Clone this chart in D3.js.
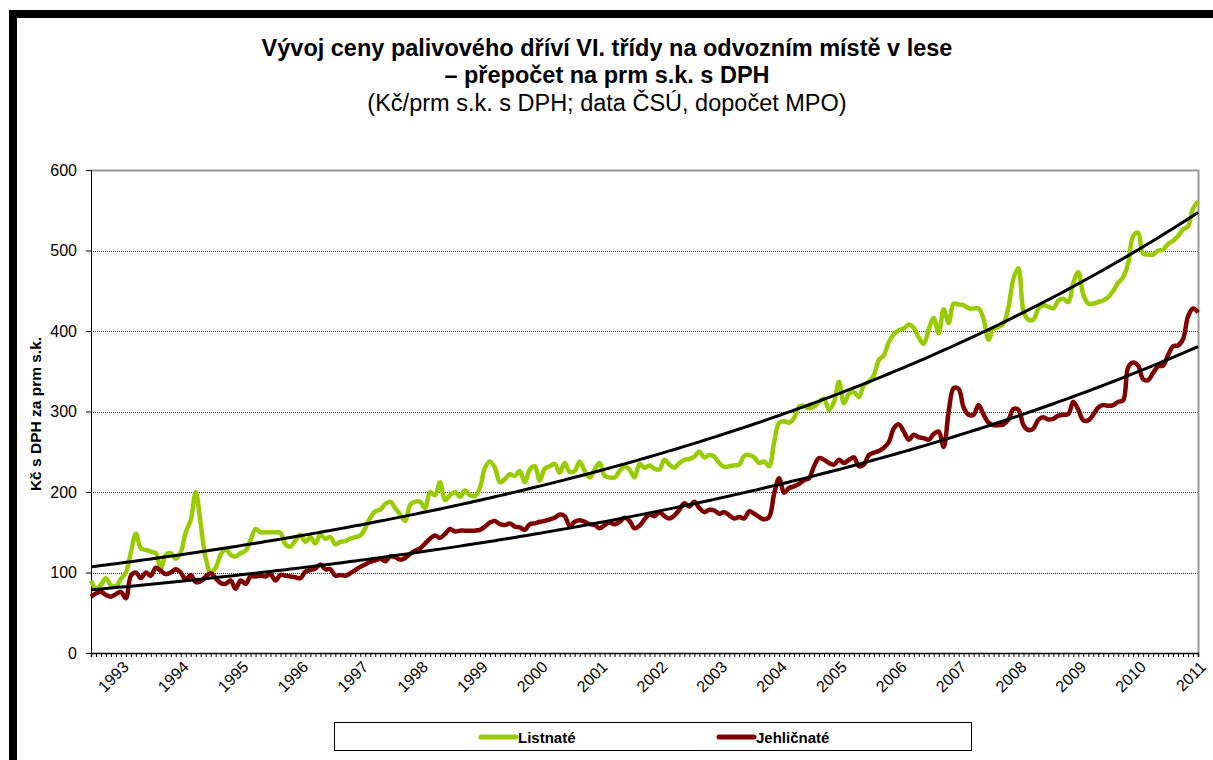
<!DOCTYPE html>
<html>
<head>
<meta charset="utf-8">
<script src="https://cdn.jsdelivr.net/npm/d3@7/dist/d3.min.js"></script>
<style>
  body { margin: 0; background: #fff; }
  svg { display: block; font-family: Arial, "Liberation Sans", sans-serif; }
</style>
</head>
<body>
<svg id="chart" width="1213" height="760"></svg>
<script>
// monthly series, first value = July 1992
const startYear = 1992, startMonth = 7;
const yearLabels = [1993, 1994, 1995, 1996, 1997, 1998, 1999, 2000, 2001, 2002,
                    2003, 2004, 2005, 2006, 2007, 2008, 2009, 2010, 2011];
const yTicks = [0, 100, 200, 300, 400, 500, 600];
const seriesNames = ["Listnaté", "Jehličnaté"];
const seriesColors = ["#99CC00", "#800000"];

const listnate = [
  90, 80, 85, 93, 84, 83, 92, 100, 125, 148, 130, 128, 126, 124, 105, 122, 124, 117, 125, 150,
  165, 200, 160, 118, 100, 106, 122, 129, 122, 120, 124, 127, 140, 154, 150, 150, 150, 150, 149, 135,
  132, 140, 147, 138, 144, 136, 147, 142, 144, 135, 138, 139, 142, 144, 146, 155, 168, 176, 178, 185,
  188, 180, 172, 164, 184, 188, 188, 180, 200, 196, 212, 190, 196, 200, 194, 202, 196, 195, 205, 230,
  238, 230, 212, 216, 222, 220, 226, 212, 228, 232, 214, 229, 232, 235, 224, 236, 225, 226, 238, 226,
  218, 228, 236, 220, 218, 218, 226, 232, 228, 218, 235, 230, 233, 229, 228, 240, 234, 230, 236, 240,
  241, 244, 250, 243, 246, 244, 236, 231, 232, 233, 234, 245, 246, 243, 236, 238, 232, 262, 286, 288,
  286, 292, 306, 307, 304, 306, 312, 316, 302, 312, 337, 310, 322, 324, 318, 333, 337, 345, 364, 370,
  386, 396, 401, 403, 408, 404, 392, 384, 402, 416, 397, 427, 410, 434, 433, 432, 428, 428, 428, 415,
  389, 403, 405, 409, 430, 465, 478, 425, 414, 414, 428, 432, 430, 428, 438, 440, 436, 460, 473, 445,
  434, 434, 436, 438, 442, 450, 460, 467, 484, 518, 522, 496, 495, 495, 500, 501, 508, 512, 518, 526,
  530, 552, 561
];
const jehlicnate = [
  70, 74, 76, 72, 70, 73, 76, 68, 96, 100, 93, 100, 96, 106, 102, 98, 100, 104, 100, 91,
  97, 88, 89, 95, 99, 93, 87, 86, 90, 80, 90, 86, 95, 95, 96, 95, 98, 90, 97, 96,
  95, 94, 93, 101, 103, 105, 110, 104, 104, 96, 97, 96, 99, 103, 107, 110, 113, 115, 117, 114,
  120, 119, 116, 118, 123, 127, 130, 136, 142, 146, 143, 148, 154, 151, 152, 152, 152, 152, 153, 157,
  162, 164, 160, 159, 161, 157, 156, 153, 160, 161, 163, 164, 166, 168, 172, 170, 158, 163, 165, 163,
  160, 159, 155, 159, 162, 160, 163, 168, 164, 155, 158, 166, 172, 170, 175, 170, 167, 171, 178, 186,
  182, 188, 180, 175, 178, 177, 173, 175, 171, 167, 169, 167, 176, 173, 169, 166, 169, 198, 217, 199,
  205, 207, 210, 215, 217, 232, 242, 240, 236, 234, 240, 236, 240, 243, 232, 234, 246, 249, 251, 255,
  262, 279, 284, 275, 265, 271, 268, 267, 265, 272, 275, 256, 300, 329, 328, 305, 296, 296, 308, 296,
  286, 283, 283, 284, 290, 303, 302, 283, 277, 279, 290, 293, 290, 291, 295, 296, 297, 312, 302, 289,
  289, 296, 305, 308, 307, 308, 312, 314, 355, 361, 357, 340, 339, 348, 356, 357, 370, 381, 382, 390,
  418, 428, 423
];

const months = listnate.map((d, i) => {
  const m = startMonth - 1 + i;
  return `${startYear + Math.floor(m / 12)}-${String(m % 12 + 1).padStart(2, "0")}`;
});

const svg = d3.select("#chart");
const plot = { left: 91, right: 1198, top: 170, bottom: 653 };

// thick frame (top and left edge)
svg.append("rect").attr("x", 9).attr("y", 10).attr("width", 1210).attr("height", 8).attr("fill", "#000");
svg.append("rect").attr("x", 9).attr("y", 10).attr("width", 8).attr("height", 760).attr("fill", "#000");

// titles
const title = svg.append("g").attr("text-anchor", "middle").attr("fill", "#000");
title.append("text").attr("x", 607).attr("y", 56).attr("font-size", 23.5).attr("font-weight", "bold")
  .text("Vývoj ceny palivového dříví VI. třídy na odvozním místě v lese");
title.append("text").attr("x", 607).attr("y", 83).attr("font-size", 23.5).attr("font-weight", "bold")
  .text("– přepočet na prm s.k. s DPH");
title.append("text").attr("x", 607).attr("y", 111).attr("font-size", 23.5)
  .text("(Kč/prm s.k. s DPH; data ČSÚ, dopočet MPO)");

const x = d3.scalePoint().domain(months).range([plot.left, plot.right]);
const y = d3.scaleLinear().domain([0, 600]).range([plot.bottom, plot.top]);

// gridlines
svg.append("g").selectAll("line")
  .data(yTicks.filter(v => v > 0 && v < 600))
  .join("line")
  .attr("x1", plot.left).attr("x2", plot.right)
  .attr("y1", d => Math.round(y(d)) + 0.5).attr("y2", d => Math.round(y(d)) + 0.5)
  .attr("stroke", "#333").attr("stroke-dasharray", "1,1");

// plot area border top/right
svg.append("path")
  .attr("d", `M${plot.left},${plot.top + 0.5}H${plot.right + 0.5}V${plot.bottom}`)
  .attr("fill", "none").attr("stroke", "#999").attr("stroke-width", 2);

// y axis
const yAxis = svg.append("g").attr("transform", `translate(${plot.left},0)`)
  .call(d3.axisLeft(y).tickValues(yTicks).tickSize(5).tickPadding(9));
yAxis.select(".domain").attr("stroke", "#000");
yAxis.selectAll("text").attr("font-size", 16).attr("font-family", "Arial, 'Liberation Sans', sans-serif");

// x axis: a tick per month
const xAxis = svg.append("g").attr("transform", `translate(0,${plot.bottom})`)
  .call(d3.axisBottom(x).tickValues(months).tickSize(4).tickFormat(""));
xAxis.select(".domain").attr("stroke", "#000").attr("stroke-width", 1.5);
xAxis.selectAll(".tick line").attr("stroke", "#000");

// year labels at January
svg.append("g").selectAll("text")
  .data(yearLabels)
  .join("text")
  .attr("transform", d => `translate(${x(d + "-01") + 5},${plot.bottom + 11}) rotate(-45)`)
  .attr("text-anchor", "end").attr("dy", "0.35em")
  .attr("font-size", 16)
  .text(d => d);

// y axis title
svg.append("text")
  .attr("transform", "translate(41,414) rotate(-90)")
  .attr("text-anchor", "middle").attr("font-size", 15.5).attr("font-weight", "bold")
  .text("Kč s DPH za prm s.k.");

// series
const line = d3.line()
  .x((d, i) => x(months[i]))
  .y(d => y(d))
  .curve(d3.curveCatmullRom.alpha(0.5));

[listnate, jehlicnate].forEach((s, k) => {
  svg.append("path").datum(s)
    .attr("d", line)
    .attr("fill", "none")
    .attr("stroke", seriesColors[k])
    .attr("stroke-width", 4.5)
    .attr("stroke-linejoin", "round");
});

// exponential trend lines (least squares on ln y)
function expFit(s) {
  const n = s.length;
  const xs = d3.range(n), ls = s.map(v => Math.log(v));
  const mx = d3.mean(xs), ml = d3.mean(ls);
  const b = d3.sum(xs, (xi, i) => (xi - mx) * (ls[i] - ml)) / d3.sum(xs, xi => (xi - mx) ** 2);
  const a = ml - b * mx;
  return xs.map(i => Math.exp(a + b * i));
}
[listnate, jehlicnate].forEach(s => {
  svg.append("path").datum(expFit(s))
    .attr("d", d3.line().x((d, i) => x(months[i])).y(d => y(d)))
    .attr("fill", "none").attr("stroke", "#000").attr("stroke-width", 3);
});

// legend
const lg = svg.append("g");
lg.append("rect").attr("x", 334.5).attr("y", 722.5).attr("width", 637).attr("height", 28)
  .attr("fill", "#fff").attr("stroke", "#000");
const legendX = [481, 719];
seriesNames.forEach((name, k) => {
  lg.append("line").attr("x1", legendX[k]).attr("x2", legendX[k] + 35)
    .attr("y1", 737).attr("y2", 737)
    .attr("stroke", seriesColors[k]).attr("stroke-width", 5).attr("stroke-linecap", "round");
  lg.append("text").attr("x", legendX[k] + 37).attr("y", 742.5)
    .attr("font-size", 15).attr("font-weight", "bold").text(name);
});
</script>
</body>
</html>
